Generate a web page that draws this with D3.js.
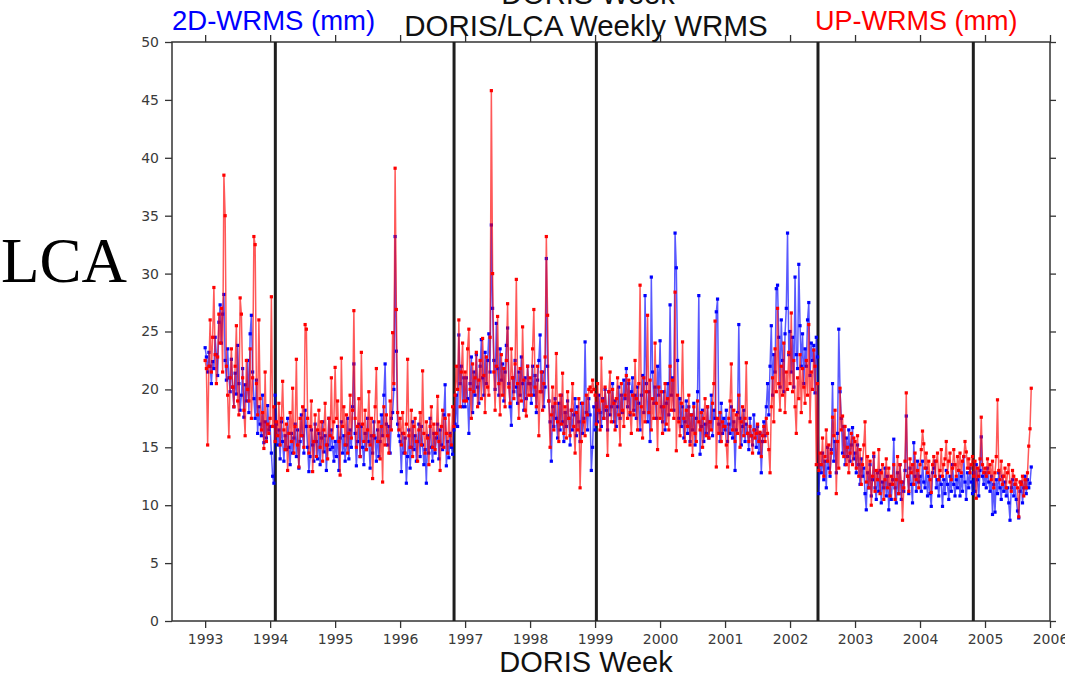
<!DOCTYPE html>
<html>
<head>
<meta charset="utf-8">
<script src="https://cdn.jsdelivr.net/npm/d3@7"></script>
<style>
  body { margin: 0; background: #fff; }
</style>
</head>
<body>
<div id="wrms_chart"></div>
<script>
// weekly WRMS values (mm), one array per year
// 2D-WRMS (blue)
var h1993 = [23.6,22.8,21.5,23.2,22.0,20.5,22.4,21.8,24.5,23.0,21.2,25.8,27.3,24.0,26.5,28.2,22.5,20.8,23.5,21.0,19.8,22.6,20.2,18.5,21.4,19.6,23.8,20.5,18.2,19.5,21.8,17.6,20.4,19.0,22.5,18.0,24.8,26.4,21.5,19.2,17.5,20.8,16.2,18.5,17.0,16.0,19.5,15.4,17.2,15.8,18.6,16.5];
var h1994 = [16.8,14.5,12.5,11.9,19.5,17.0,15.2,16.5,14.0,17.2,15.5,13.8,16.0,14.8,17.5,15.0,13.5,16.2,14.5,15.8,17.0,14.2,16.5,13.2,15.5,17.8,16.0,14.5,18.2,16.8,15.0,12.9,14.2,16.5,15.2,13.8,17.0,15.5,14.0,16.2,13.5,15.8,17.2,14.6,16.0,13.0,15.2,17.5,14.8,16.5,15.0,13.8];
var h1995 = [15.5,14.2,16.8,13.0,15.8,17.2,14.5,16.0,13.8,15.2,17.5,14.0,16.5,15.0,18.5,22.2,16.2,13.4,15.5,17.0,14.2,16.8,15.0,13.5,16.2,14.8,17.5,15.5,13.2,16.0,14.5,17.2,15.8,13.8,16.5,14.2,15.5,17.8,16.0,19.5,22.2,17.0,15.2,16.8,14.5,17.5,18.0,20.0,33.2,23.3,17.0,16.0];
var h1996 = [15.5,12.9,16.2,14.5,15.8,11.9,14.2,16.5,13.2,15.0,17.2,14.8,16.0,13.8,15.5,17.0,14.2,16.8,15.2,13.5,14.8,11.9,16.0,14.5,17.5,15.0,13.8,16.2,14.5,15.8,17.0,14.0,16.5,15.2,14.8,17.8,20.4,13.4,15.5,14.1,16.2,15.0,14.4,16.5,17.0,19.5,16.8,24.7,20.5,22.0,18.5,21.0];
var h1997 = [18.5,21.0,19.2,16.2,20.5,22.8,18.0,21.5,19.5,23.0,20.2,18.8,22.0,24.3,21.0,19.5,23.2,20.5,22.5,24.8,21.5,34.2,27.0,22.5,20.0,25.7,21.8,19.5,23.5,20.8,22.2,19.0,21.5,23.8,25.3,20.5,18.5,16.9,21.0,19.8,22.5,20.2,18.8,21.5,19.5,22.8,20.5,18.2,21.0,19.2,22.0,20.5];
var h1998 = [20.5,18.8,22.0,19.5,21.2,18.0,20.8,22.5,24.7,19.8,21.5,18.5,20.2,31.3,22.0,19.0,17.2,13.8,18.5,16.8,19.2,17.5,15.8,18.8,16.5,19.5,17.2,15.5,18.0,16.8,19.0,17.5,15.2,18.2,16.5,17.8,19.2,16.0,18.5,17.2,15.5,18.8,16.2,17.5,24.1,18.0,16.5,19.2,17.8,13.0,15.0,18.5];
var h1999 = [16.5,18.8,17.2,19.5,18.0,16.8,19.2,17.5,20.0,18.2,16.5,19.8,17.8,18.5,20.5,17.2,19.0,16.8,18.5,20.2,17.5,19.5,18.0,20.8,19.2,21.8,18.5,20.5,17.8,19.8,21.0,18.2,19.5,17.5,20.2,18.8,16.5,19.5,21.2,18.0,28.1,20.5,17.2,19.8,15.5,29.7,21.5,18.8,20.2,17.5,22.0,19.5];
var h2000 = [24.2,18.5,17.2,19.8,16.5,18.8,20.5,17.8,27.3,19.5,21.0,18.2,33.5,30.5,22.5,17.5,19.2,16.8,18.5,15.8,17.2,19.0,16.2,18.5,15.5,17.8,16.5,18.8,15.2,17.5,19.8,28.1,14.4,16.8,18.2,15.5,17.0,16.2,18.5,15.8,17.2,19.5,16.0,18.2,17.5,26.7,27.8,17.0,15.5,18.8,16.2,17.5];
var h2001 = [16.5,18.2,15.5,17.0,16.2,18.5,15.8,17.2,13.0,16.5,18.0,25.6,17.5,15.2,16.8,18.2,15.5,17.0,16.2,14.8,17.5,16.0,15.2,17.8,16.5,15.0,16.8,14.5,16.2,12.8,15.5,17.2,16.0,18.5,20.5,17.8,22.0,25.5,19.5,23.0,21.5,28.7,29.0,24.5,20.2,26.0,22.5,19.8,24.8,27.0,33.5,23.0];
var h2002 = [25.0,21.5,24.5,20.2,29.7,23.0,21.8,30.8,25.5,22.0,24.8,20.5,23.5,22.0,26.0,27.5,21.2,24.0,22.5,23.8,19.7,24.5,22.8,11.0,13.5,12.8,14.5,12.2,13.8,11.5,15.0,13.2,12.5,14.8,20.5,13.8,15.5,12.8,16.2,25.2,19.8,17.5,14.5,16.8,13.5,15.8,14.2,16.5,13.8,15.2,16.7,14.0];
var h2003 = [14.5,12.8,15.2,13.5,11.8,14.0,12.5,13.2,11.0,9.6,12.8,11.5,13.5,10.8,12.2,14.2,11.5,10.5,12.8,11.2,13.0,10.2,12.0,11.5,13.2,10.8,12.5,9.6,11.8,10.5,12.2,15.7,11.5,10.2,12.8,11.0,13.5,10.5,12.0,11.2,13.0,17.7,12.5,11.0,13.2,11.8,10.2,15.4,12.5,11.2,13.8,12.0];
var h2004 = [12.5,11.2,13.8,12.0,11.5,13.2,10.8,12.5,11.0,9.9,12.8,13.2,13.8,11.5,12.2,10.8,12.5,11.8,9.9,12.2,11.0,13.0,11.8,10.5,12.5,11.2,13.5,11.8,10.8,12.2,11.5,13.0,10.8,12.5,11.2,14.2,12.0,10.5,12.8,11.5,13.2,12.0,11.0,12.8,11.2,13.5,12.2,10.8,13.0,15.9,12.5,11.8];
var h2005 = [12.8,11.5,13.2,12.0,11.2,12.5,9.2,11.8,9.4,12.2,11.0,12.8,11.5,10.5,12.5,11.2,12.0,10.8,11.5,10.2,8.7,11.5,12.2,10.8,11.8,10.5,9.5,8.9,11.2,12.0,10.2,11.5,12.5,11.0,12.2,11.5,11.9,13.3];

// UP-WRMS (red)
var u1993 = [22.5,21.8,15.2,22.0,26.0,21.5,24.5,28.8,23.0,20.5,22.8,26.5,24.0,27.0,21.5,38.5,35.0,22.0,19.5,15.9,21.0,23.5,20.2,18.5,22.0,25.5,19.0,17.8,27.9,26.5,21.0,18.2,16.0,22.5,20.0,19.0,23.5,17.5,21.0,33.2,32.5,20.5,17.8,26.0,19.2,16.5,18.0,14.9,21.5,15.5,17.0,16.2];
var u1994 = [17.5,28.0,16.8,18.5,15.5,17.2,16.0,18.8,15.2,17.5,20.7,16.5,14.8,17.0,13.0,16.2,18.0,15.5,20.1,14.5,16.8,22.6,15.2,13.3,17.5,16.0,18.5,15.0,25.6,25.2,17.5,14.5,16.8,19.0,12.9,15.5,17.8,14.2,16.5,18.2,15.0,17.2,13.8,16.5,18.8,15.2,14.0,17.5,16.0,21.0,15.8,17.2];
var u1995 = [21.9,17.5,19.0,15.5,12.6,22.7,16.8,18.5,15.2,17.8,14.5,16.2,19.5,15.8,18.2,26.8,17.5,15.0,16.8,19.2,14.2,23.2,17.0,15.5,18.2,14.8,16.5,19.8,15.2,17.5,12.3,16.0,18.5,21.8,15.5,17.2,14.0,16.8,12.0,18.5,15.2,17.8,16.0,14.5,19.0,16.5,24.9,20.5,39.1,26.9,18.0,16.5];
var u1996 = [17.5,15.2,18.0,16.2,14.5,17.0,22.6,16.0,15.0,18.2,14.2,16.8,17.5,15.5,13.8,16.5,18.0,15.2,21.6,16.2,14.5,17.2,15.8,13.5,16.8,18.5,15.0,17.0,14.8,16.2,19.4,15.5,13.0,16.8,18.2,15.0,17.5,16.2,14.5,17.8,16.0,15.2,18.5,16.8,19.5,22.0,20.0,26.0,18.5,21.5,24.0,19.0];
var u1997 = [21.5,19.0,23.5,25.2,20.0,17.5,22.2,19.8,21.0,23.2,18.5,20.8,22.5,19.2,24.4,21.2,18.0,22.8,20.2,19.5,24.5,45.8,30.0,21.5,18.2,22.0,26.3,20.5,17.8,23.0,19.5,21.8,18.5,22.5,27.4,20.2,18.8,23.5,21.0,19.2,22.2,29.5,20.5,17.5,21.8,19.0,25.4,20.8,18.2,17.7,22.0,19.5];
var u1998 = [21.0,19.5,23.5,26.9,20.2,18.5,22.0,16.0,19.8,21.5,18.2,20.5,22.8,33.2,26.4,19.0,15.0,17.8,20.2,16.5,18.8,23.1,17.2,15.5,19.5,17.0,21.4,16.2,18.5,15.8,19.8,17.5,16.0,18.2,20.5,16.8,14.5,18.0,16.5,19.2,11.5,15.5,18.8,17.2,16.0,19.5,17.8,20.0,20.2,19.8,20.8,20.0];
var u1999 = [19.5,17.0,20.5,18.2,16.5,22.7,19.0,17.5,20.2,18.5,14.3,19.8,21.5,17.2,20.0,18.8,16.5,19.2,21.0,17.8,15.2,20.5,18.2,16.8,19.5,21.2,17.5,20.8,18.0,16.2,19.5,17.8,22.5,19.2,16.5,20.5,29.0,18.5,15.8,21.0,17.2,19.8,26.4,18.0,20.8,16.5,19.2,17.5,24.0,18.8,14.8,20.2];
var u2000 = [17.5,19.8,16.2,18.5,20.5,17.0,19.2,16.5,22.0,18.2,20.8,17.5,28.4,14.7,19.5,17.2,16.0,18.8,24.1,17.5,15.5,18.2,16.8,19.5,15.2,17.8,14.3,18.5,16.2,15.5,19.0,17.2,16.5,18.0,15.0,17.5,19.2,16.0,18.5,15.8,17.2,16.5,18.8,20.5,25.9,13.3,17.5,16.2,18.0,15.5,17.2,16.8];
var u2001 = [16.8,15.2,13.3,17.5,19.0,22.2,16.5,18.2,15.5,17.8,16.2,19.5,15.0,17.2,18.5,16.0,17.5,22.3,16.2,15.5,16.8,16.0,14.5,16.5,15.8,16.2,17.0,15.5,16.3,14.2,16.0,16.8,15.5,17.5,16.2,14.8,12.8,18.5,21.0,17.2,23.5,19.8,27.0,20.5,18.2,22.0,19.5,24.0,18.0,21.5,20.0,23.2];
var u2002 = [20.5,26.6,19.8,22.5,18.5,16.2,21.0,19.2,23.0,18.0,21.8,20.2,18.8,22.5,19.5,25.6,17.2,21.5,20.0,23.4,22.0,13.5,20.5,13.0,14.5,13.5,15.8,12.5,14.2,16.5,13.8,15.2,12.8,14.5,17.6,16.0,18.2,11.0,15.5,13.2,20.1,16.5,17.7,14.2,16.8,13.5,15.0,12.8,14.5,16.2,13.5,15.8];
var u2003 = [15.5,13.2,16.0,12.5,14.8,11.8,13.5,15.2,17.2,12.0,14.2,11.5,13.8,10.0,12.5,14.5,11.2,13.0,12.2,14.8,11.0,12.8,13.5,10.5,12.2,14.0,11.5,13.2,10.8,12.5,11.8,13.5,10.5,12.2,14.2,11.0,13.5,12.0,8.7,11.5,13.8,19.7,12.5,11.2,14.0,12.8,13.5,11.8,14.5,12.2,13.0,11.5];
var u2004 = [13.5,14.8,16.4,15.3,13.2,14.5,12.8,13.8,12.2,11.1,13.5,14.2,12.5,13.8,14.5,12.2,13.0,14.8,12.5,13.5,14.0,15.5,12.8,13.8,14.5,12.2,13.2,14.8,13.5,12.5,14.2,13.0,14.5,12.8,13.8,14.2,15.5,14.6,13.2,14.0,12.8,13.5,14.2,12.5,13.8,10.6,13.2,12.5,14.0,17.6,13.5,12.8];
var u2005 = [13.2,12.5,14.0,12.8,13.5,12.2,13.8,11.5,12.8,14.2,19.1,13.0,12.2,13.8,11.8,12.5,13.2,11.5,12.8,13.5,12.0,11.2,13.0,12.5,11.8,12.2,11.5,9.0,12.0,11.8,12.5,10.8,12.2,11.5,12.8,15.1,16.6,20.1];

var years = [1993, 1994, 1995, 1996, 1997, 1998, 1999, 2000, 2001, 2002, 2003, 2004, 2005];
var hYears = [h1993, h1994, h1995, h1996, h1997, h1998, h1999, h2000, h2001, h2002, h2003, h2004, h2005];
var uYears = [u1993, u1994, u1995, u1996, u1997, u1998, u1999, u2000, u2001, u2002, u2003, u2004, u2005];

// solution discontinuities (vertical bars)
var breakYears = [1994.08, 1996.83, 1999.02, 2002.43, 2004.82];

var xTicks = [1993, 1994, 1995, 1996, 1997, 1998, 1999, 2000, 2001, 2002, 2003, 2004, 2005, 2006];
var yTicks = [0, 5, 10, 15, 20, 25, 30, 35, 40, 45, 50];

// set the dimensions and margins of the graph
var margin = { top: 42, right: 15, bottom: 57, left: 172 },
    width = 1065 - margin.left - margin.right,
    height = 678 - margin.top - margin.bottom;

var svg = d3.select("#wrms_chart")
    .append("svg")
    .attr("width", 1065)
    .attr("height", 678)
    .style("font-family", "'Liberation Sans', Arial, sans-serif");

svg.append("rect")
    .attr("width", 1065)
    .attr("height", 678)
    .attr("fill", "#ffffff");

var g = svg.append("g")
    .attr("transform", "translate(" + margin.left + "," + margin.top + ")");

var x = d3.scaleLinear()
    .domain([1992.49, 2006.0])
    .range([0, width]);

var y = d3.scaleLinear()
    .domain([0, 50])
    .range([height, 0]);

// turn the yearly arrays into one weekly series
function toSeries(arrs) {
    var out = [];
    arrs.forEach(function (arr, k) {
        arr.forEach(function (v, i) {
            out.push({ t: years[k] + i / 52, v: v });
        });
    });
    return out;
}
var series2d = toSeries(hYears);
var seriesUp = toSeries(uYears);

// axes: ticks outward on all four sides
var tickColor = "#333";
g.append("g")
    .attr("transform", "translate(0," + height + ")")
    .call(d3.axisBottom(x).tickValues(xTicks).tickFormat(d3.format("d")).tickSize(7).tickPadding(6))
    .call(function (a) { a.select(".domain").remove(); });
g.append("g")
    .call(d3.axisTop(x).tickValues(xTicks).tickFormat("").tickSize(7))
    .call(function (a) { a.select(".domain").remove(); });
g.append("g")
    .call(d3.axisLeft(y).tickValues(yTicks).tickSize(7).tickPadding(6))
    .call(function (a) { a.select(".domain").remove(); });
g.append("g")
    .attr("transform", "translate(" + width + ",0)")
    .call(d3.axisRight(y).tickValues(yTicks).tickFormat("").tickSize(6))
    .call(function (a) { a.select(".domain").remove(); });

g.selectAll(".tick line")
    .attr("stroke", tickColor)
    .attr("stroke-width", 1.3);
g.selectAll(".tick text")
    .attr("fill", "#3a3a3a")
    .style("font-family", "'DejaVu Sans', sans-serif")
    .style("font-size", "14px");

// frame
g.append("rect")
    .attr("width", width)
    .attr("height", height)
    .attr("fill", "none")
    .attr("stroke", tickColor)
    .attr("stroke-width", 1.5);

// vertical break lines
g.selectAll(".brk")
    .data(breakYears)
    .enter()
    .append("line")
    .attr("class", "brk")
    .attr("x1", function (d) { return x(d); })
    .attr("x2", function (d) { return x(d); })
    .attr("y1", 0)
    .attr("y2", height)
    .attr("stroke", "#1e1e1e")
    .attr("stroke-width", 3);

var line = d3.line()
    .x(function (d) { return x(d.t); })
    .y(function (d) { return y(d.v); });

function drawSeries(data, color) {
    g.append("path")
        .datum(data)
        .attr("fill", "none")
        .attr("stroke", color)
        .attr("stroke-opacity", 0.65)
        .attr("stroke-width", 1.5)
        .attr("d", line);
    var s = 3.2;
    g.append("g")
        .selectAll("rect")
        .data(data)
        .enter()
        .append("rect")
        .attr("x", function (d) { return x(d.t) - s / 2; })
        .attr("y", function (d) { return y(d.v) - s / 2; })
        .attr("width", s)
        .attr("height", s)
        .attr("fill", color);
}
drawSeries(series2d, "#0000ff");
drawSeries(seriesUp, "#ff0000");

// titles and labels
svg.append("text")
    .attr("x", 588)
    .attr("y", 4)
    .attr("text-anchor", "middle")
    .style("font-size", "29px")
    .attr("fill", "#111")
    .text("DORIS Week");

svg.append("text")
    .attr("x", 586)
    .attr("y", 36)
    .attr("text-anchor", "middle")
    .style("font-size", "29.5px")
    .attr("fill", "#111")
    .text("DORIS/LCA Weekly WRMS");

svg.append("text")
    .attr("x", 172)
    .attr("y", 30)
    .style("font-size", "27.5px")
    .attr("fill", "#0000ff")
    .text("2D-WRMS (mm)");

svg.append("text")
    .attr("x", 815)
    .attr("y", 30)
    .style("font-size", "27px")
    .attr("fill", "#ff0000")
    .text("UP-WRMS (mm)");

svg.append("text")
    .attr("x", 586)
    .attr("y", 672)
    .attr("text-anchor", "middle")
    .style("font-size", "29px")
    .attr("fill", "#111")
    .text("DORIS Week");

svg.append("text")
    .attr("x", 1)
    .attr("y", 282)
    .style("font-family", "'Liberation Serif', 'Times New Roman', serif")
    .style("font-size", "63px")
    .attr("fill", "#000")
    .text("LCA");
</script>
</body>
</html>
